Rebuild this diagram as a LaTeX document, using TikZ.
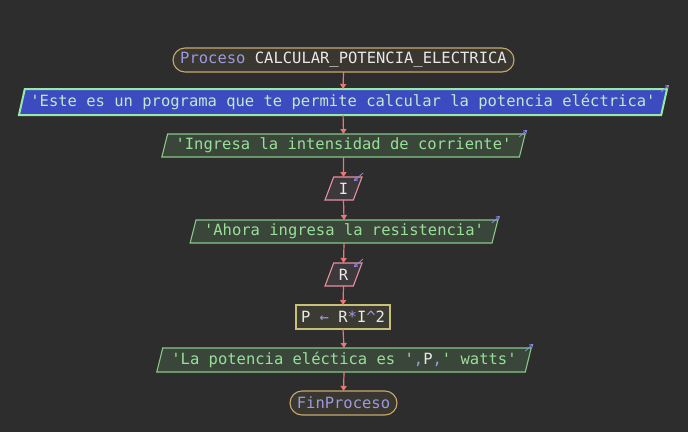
\documentclass[tikz,border=0pt]{standalone}
\usepackage{fontspec}
\setmonofont{DejaVu Sans Mono}
\usetikzlibrary{shapes.geometric,arrows.meta,calc}
\definecolor{bg}{HTML}{2D2D2D}
\definecolor{procfill}{HTML}{3A3630}
\definecolor{procborder}{HTML}{C8A870}
\definecolor{kw}{HTML}{9A9AE0}
\definecolor{txt}{HTML}{E8E8E8}
\definecolor{bluefill}{HTML}{3C4CC0}
\definecolor{blueborder}{HTML}{98E8A8}
\definecolor{bluetext}{HTML}{C0E8D0}
\definecolor{outfill}{HTML}{3A4639}
\definecolor{outborder}{HTML}{88C888}
\definecolor{outtext}{HTML}{98E098}
\definecolor{infill}{HTML}{3D383C}
\definecolor{inborder}{HTML}{E890A0}
\definecolor{asfill}{HTML}{3C3B33}
\definecolor{asborder}{HTML}{C8C078}
\definecolor{flow}{HTML}{E87878}
\definecolor{mark}{HTML}{8A8AE8}
\begin{document}
\begin{tikzpicture}[x=1pt,y=-1pt,
  every node/.style={font=\fontsize{15.5}{18}\selectfont\ttfamily, inner sep=0pt, outer sep=0pt},
  procbox/.style={draw=procborder, fill=procfill, rounded corners=12pt, line width=1.1pt, rectangle, minimum height=24pt, text=txt},
  para/.style={trapezium, trapezium left angle=70, trapezium right angle=110, trapezium stretches=true, line width=1.1pt},
  bluebox/.style={para, draw=blueborder, fill=bluefill, line width=2pt, text=bluetext, minimum height=26pt},
  outbox/.style={para, draw=outborder, fill=outfill, text=outtext, minimum height=23pt},
  inbox/.style={para, draw=inborder, fill=infill, text=txt, minimum height=23pt},
  asbox/.style={rectangle, draw=asborder, fill=asfill, line width=1.1pt, text=txt, minimum height=24pt},
  flowline/.style={draw=flow, line width=1.2pt, -{Triangle[length=5pt,width=6pt]}},
  outmark/.style={draw=mark, line width=0.8pt, -{Straight Barb[length=3pt,width=4pt]}},
]
\fill[bg] (0,0) rectangle (688,432);
\useasboundingbox (0,0) rectangle (688,432);

\node[procbox, minimum width=341pt] (p) at (343.5,60) {\textcolor{kw}{Proceso} CALCULAR\_POTENCIA\_ELECTRICA};
\node[bluebox, minimum width=654pt] (o1) at (343,102) {'Este es un programa que te permite calcular la potencia eléctrica'};
\node[outbox, minimum width=365pt] (o2) at (343.5,145.5) {'Ingresa la intensidad de corriente'};
\node[inbox, minimum width=37pt] (i1) at (343.5,188.5) {I};
\node[outbox, minimum width=308pt] (o3) at (344,231.5) {'Ahora ingresa la resistencia'};
\node[inbox, minimum width=37pt] (i2) at (343.5,274.5) {R};
\node[asbox, minimum width=94pt] (a) at (343,317) {P \textcolor{kw}{←} R\textcolor{kw}{*}I\textcolor{kw}{\char`\^}2};
\node[outbox, minimum width=376pt, minimum height=24pt] (o4) at (344,360) {'La potencia eléctica es '\textcolor{kw}{,}\textcolor{txt}{P}\textcolor{kw}{,}' watts'};
\node[procbox, minimum width=107pt, text=kw] (f) at (343.5,403) {FinProceso};

\draw[flowline] (p.south) -- (o1.north);
\draw[flowline] (o1.south) -- (o2.north);
\draw[flowline] (o2.south) -- (i1.north);
\draw[flowline] (i1.south) -- (o3.north);
\draw[flowline] (o3.south) -- (i2.north);
\draw[flowline] (i2.south) -- (a.north);
\draw[flowline] (a.south) -- (o4.north);
\draw[flowline] (o4.south) -- (f.north);

\foreach \n in {o1,o2,o3,o4}{
  \draw[outmark] ($(\n.top right corner)+(-6,3)$) -- ($(\n.top right corner)+(2,-4)$);
}
\foreach \n in {i1,i2}{
  \draw[outmark] ($(\n.top right corner)+(1,-4)$) -- ($(\n.top right corner)+(-8,4)$);
}
\end{tikzpicture}
\end{document}
